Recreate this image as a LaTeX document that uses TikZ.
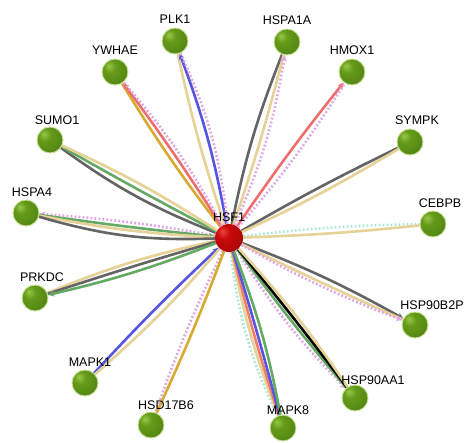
\documentclass[tikz,border=0pt]{standalone}
\usepackage{fontspec}
\setmainfont{Liberation Sans}
\usetikzlibrary{arrows.meta,backgrounds}
\definecolor{ctan}{RGB}{230,210,150}
\definecolor{cgray}{RGB}{100,100,100}
\definecolor{cgreen}{RGB}{100,170,100}
\definecolor{cpink}{RGB}{225,165,230}
\definecolor{cred}{RGB}{238,110,110}
\definecolor{cblue}{RGB}{85,85,225}
\definecolor{ccyan}{RGB}{170,235,215}
\definecolor{cgold}{RGB}{215,170,50}
\definecolor{csalmon}{RGB}{240,125,105}
\definecolor{ghi}{RGB}{150,200,70}
\definecolor{gmid}{RGB}{100,155,25}
\definecolor{glo}{RGB}{45,85,5}
\definecolor{rhi}{RGB}{235,70,60}
\definecolor{rmid}{RGB}{200,10,10}
\definecolor{rlo}{RGB}{110,0,0}
\pgfdeclareradialshading{gballsh}{\pgfpoint{-12bp}{12bp}}{color(0bp)=(ghi); color(12bp)=(gmid); color(30bp)=(gmid!75!glo); color(48bp)=(glo); color(80bp)=(glo)}
\pgfdeclareradialshading{rballsh}{\pgfpoint{-12bp}{12bp}}{color(0bp)=(rhi); color(12bp)=(rmid); color(30bp)=(rmid!75!rlo); color(48bp)=(rlo); color(80bp)=(rlo)}
\begin{document}
\begin{tikzpicture}[x=1pt,y=-1pt,
  gball/.style={circle,minimum size=26pt,inner sep=0pt,shading=gballsh,draw={rgb,255:red,200;green,225;blue,150},line width=0.9pt},
  rball/.style={circle,minimum size=28pt,inner sep=0pt,shading=rballsh},
  lbl/.style={font=\fontsize{12.5}{14}\selectfont,inner sep=0pt},
  edge/.style={line width=2.6pt},
  dot/.style={line width=2.6pt,dash pattern=on 1.8pt off 2.2pt},
  tip/.style={-{Stealth[length=6pt,width=6pt]}}
]
\useasboundingbox (0,0) rectangle (468,442);

\node[rball] (h) at (229,238) {};
\node[gball] (plk1) at (175,41) {};
\node[gball] (hspa1a) at (287,42) {};
\node[gball] (hmox1) at (352,72) {};
\node[gball] (ywhae) at (115,72) {};
\node[gball] (sumo1) at (50,140) {};
\node[gball] (hspa4) at (26,213) {};
\node[gball] (prkdc) at (35,298) {};
\node[gball] (mapk1) at (85,383) {};
\node[gball] (hsd) at (151,425) {};
\node[gball] (mapk8) at (283,428) {};
\node[gball] (hsp90aa1) at (355,398) {};
\node[gball] (hsp90b2p) at (415,325) {};
\node[gball] (cebpb) at (433,224) {};
\node[gball] (sympk) at (410,142) {};

\node[lbl] (lh) at (229,217) {HSF1};
\node[lbl] (lplk1) at (175,19) {PLK1};
\node[lbl] (lhspa1a) at (287,20) {HSPA1A};
\node[lbl] (lhmox1) at (352,50) {HMOX1};
\node[lbl] (lywhae) at (115,50) {YWHAE};
\node[lbl] (lsumo1) at (57,120) {SUMO1};
\node[lbl] (lhspa4) at (32,192) {HSPA4};
\node[lbl] (lprkdc) at (42,277) {PRKDC};
\node[lbl] (lmapk1) at (90,362) {MAPK1};
\node[lbl] (lhsd) at (166,405) {HSD17B6};
\node[lbl] (lmapk8) at (288,410) {MAPK8};
\node[lbl] (lhsp90aa1) at (373,380) {HSP90AA1};
\node[lbl] (lhsp90b2p) at (432,305) {HSP90B2P};
\node[lbl] (lcebpb) at (440,203) {CEBPB};
\node[lbl] (lsympk) at (417,120) {SYMPK};

\begin{scope}[on background layer]
\fill[white] (0,0) rectangle (468,442);
% PLK1
\draw[edge,ctan] (h) to[bend left=3] (plk1);
\draw[edge,cblue,tip] (h) to[bend right=5] (plk1);
\draw[dot,cpink] (h) to[bend right=9] (plk1);
% HSPA1A
\draw[edge,cgray] (h) to[bend left=5] (hspa1a);
\draw[edge,ctan] (h) to[bend right=2] (hspa1a);
\draw[dot,cpink,tip] (h) to[bend right=7] (hspa1a);
% HMOX1
\draw[edge,cred,tip] (h) to[bend left=2] (hmox1);
\draw[dot,cpink] (h) to[bend right=4] (hmox1);
% YWHAE
\draw[edge,cgold] (h) to[bend left=3] (ywhae);
\draw[edge,cred,tip] (h) to[bend right=2] (ywhae);
\draw[dot,cpink] (h) to[bend right=6] (ywhae);
% SUMO1
\draw[edge,cgray] (h) to[bend left=7] (sumo1);
\draw[edge,cgreen] (h) to[bend left=1] (sumo1);
\draw[edge,ctan] (h) to[bend right=4] (sumo1);
% HSPA4
\draw[dot,cpink,tip] (h) to[bend right=3] (hspa4);
\draw[edge,cgreen,tip] (hspa4) to[bend right=1] (h);
\draw[edge,ctan] (h) to[bend left=4] (hspa4);
\draw[edge,cgray] (h) to[bend left=9] (hspa4);
% PRKDC
\draw[edge,ctan] (h) to[bend right=5] (prkdc);
\draw[edge,cgray] (h) to[bend right=1] (prkdc);
\draw[edge,cgreen,tip] (h) to[bend left=4] (prkdc);
% MAPK1
\draw[edge,cblue,tip] (mapk1) to[bend left=2] (h);
\draw[edge,ctan] (h) to[bend left=4] (mapk1);
% HSD17B6
\draw[dot,cpink] (h) to[bend right=3] (hsd);
\draw[edge,cgold] (h) to[bend left=2] (hsd);
% MAPK8
\draw[dot,ccyan] (h) to[bend right=9] (mapk8);
\draw[edge,ctan] (h) to[bend right=5] (mapk8);
\draw[edge,csalmon] (h) to[bend right=2] (mapk8);
\draw[edge,cblue] (h) to[bend left=1] (mapk8);
\draw[edge,cgreen] (h) to[bend left=5] (mapk8);
% HSP90AA1
\draw[dot,cpink,tip] (h) to[bend right=6] (hsp90aa1);
\draw[edge,cgreen] (h) to[bend right=2] (hsp90aa1);
\draw[edge,black] (h) to[bend left=1] (hsp90aa1);
\draw[edge,ctan] (h) to[bend left=4] (hsp90aa1);
% HSP90B2P
\draw[edge,cgray,tip] (h) to[bend left=4] (hsp90b2p);
\draw[edge,ctan] (h) to[bend right=1] (hsp90b2p);
\draw[dot,cpink,tip] (h) to[bend right=4] (hsp90b2p);
% CEBPB
\draw[dot,ccyan] (h) to[bend left=3] (cebpb);
\draw[edge,ctan] (h) to[bend right=2] (cebpb);
% SYMPK
\draw[edge,cgray] (h) to[bend left=2] (sympk);
\draw[edge,ctan] (h) to[bend right=3] (sympk);
\end{scope}
\end{tikzpicture}
\end{document}
